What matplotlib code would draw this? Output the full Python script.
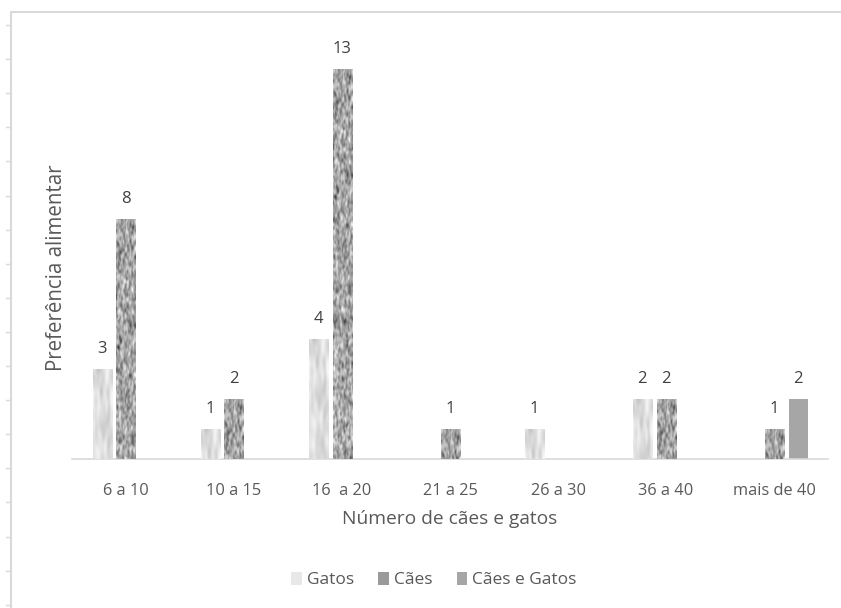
import numpy as np
import matplotlib
matplotlib.use("Agg")
import matplotlib.pyplot as plt
from matplotlib.patches import Patch

categories = ["6 a 10", "10 a 15", "16  a 20", "21 a 25", "26 a 30", "36 a 40", "mais de 40"]
gatos = [3, 1, 4, 0, 1, 2, 0]
caes = [8, 2, 13, 1, 0, 2, 1]
caes_e_gatos = [0, 0, 0, 0, 0, 0, 2]
series_names = ["Gatos", "Cães", "Cães e Gatos"]

plt.rcParams['font.family'] = ['Open Sans', 'DejaVu Sans']
txt = "#595959"


def smooth_noise(shape, sigma, rng):
    # blurred noise, used only as a fill texture
    w = rng.random(shape)
    fy = np.fft.fftfreq(shape[0])[:, None]
    fx = np.fft.fftfreq(shape[1])[None, :]
    k = np.exp(-2 * (np.pi * sigma) ** 2 * (fx ** 2 + fy ** 2))
    out = np.real(np.fft.ifft2(np.fft.fft2(w) * k))
    out = (out - out.min()) / (out.max() - out.min())
    return out


rng = np.random.default_rng(3)
tex_caes = smooth_noise((420, 60), 1.6, rng)
tex_caes = np.clip(0.2 + 0.8 * tex_caes ** 0.9, 0, 1)
tex_gatos = smooth_noise((300, 60), 4.0, rng)
tex_gatos = 0.76 + 0.22 * tex_gatos

fig = plt.figure(figsize=(8.41, 6.08), dpi=100)
ax = fig.add_axes([0.0856, 0.245, 0.899, 0.7155])

x = np.arange(len(categories))
w = 0.176
step = 0.222


def textured_bars(xs, vals, tex, color):
    bars = ax.bar(xs, vals, w, color=color, zorder=2)
    for b, v in zip(bars, vals):
        if v <= 0:
            continue
        x0 = b.get_x()
        rows = max(int(tex.shape[0] * v / 14), 4)
        im = ax.imshow(tex[:rows], cmap="gray", vmin=0, vmax=1,
                       extent=[x0, x0 + w, 0, v], aspect="auto",
                       interpolation="bilinear", zorder=3)
        im.set_clip_path(b)
    return bars


textured_bars(x - step, gatos, tex_gatos, "#e6e6e6")
textured_bars(x, caes, tex_caes, "#8c8c8c")
ax.bar(x + step, caes_e_gatos, w, color="#a6a6a6", zorder=2)

for off, vals in [(-step, gatos), (0, caes), (step, caes_e_gatos)]:
    for xi, v in zip(x, vals):
        if v > 0:
            ax.annotate(str(v), (xi + off, v), xytext=(0, 8.5), textcoords="offset points",
                        ha="center", va="bottom", fontsize=12, color="#404040")

ax.set_xlim(-0.5, len(categories) - 0.5)
ax.set_ylim(0, 14.5)
ax.set_xticks(x)
ax.set_xticklabels(categories, fontsize=11.8, color=txt)
ax.tick_params(axis="x", length=0, pad=17)
ax.set_yticks([])
for s in ["top", "right", "left"]:
    ax.spines[s].set_visible(False)
ax.spines["bottom"].set_color("#d9d9d9")
ax.spines["bottom"].set_linewidth(1.2)
ax.set_xlabel("Número de cães e gatos", fontsize=13.8, color=txt, labelpad=8)
ax.set_ylabel("Preferência alimentar", fontsize=14.8, color=txt)
ax.yaxis.set_label_coords(-0.007, 0.44)

handles = [Patch(facecolor="#e8e8e8"), Patch(facecolor="#9a9a9a"), Patch(facecolor="#a6a6a6")]
fig.legend(handles, series_names, loc="center", bbox_to_anchor=(0.516, 0.046), ncol=3,
           frameon=False, fontsize=12.5, labelcolor=txt, handlelength=0.6,
           handleheight=0.75, handletextpad=0.3, columnspacing=1.4)

# outer frame of the original screenshot
ov = fig.add_axes([0, 0, 1, 1], zorder=-1)
ov.set_xlim(0, 841)
ov.set_ylim(608, 0)
ov.axis("off")
ov.plot([11, 11, 841], [608, 12, 12], color="#d9d9d9", lw=1.5)
for yt in np.arange(25, 608, 34.1):
    ov.plot([6, 11], [yt, yt], color="#d9d9d9", lw=1)

fig.savefig("out.png", dpi=100)
